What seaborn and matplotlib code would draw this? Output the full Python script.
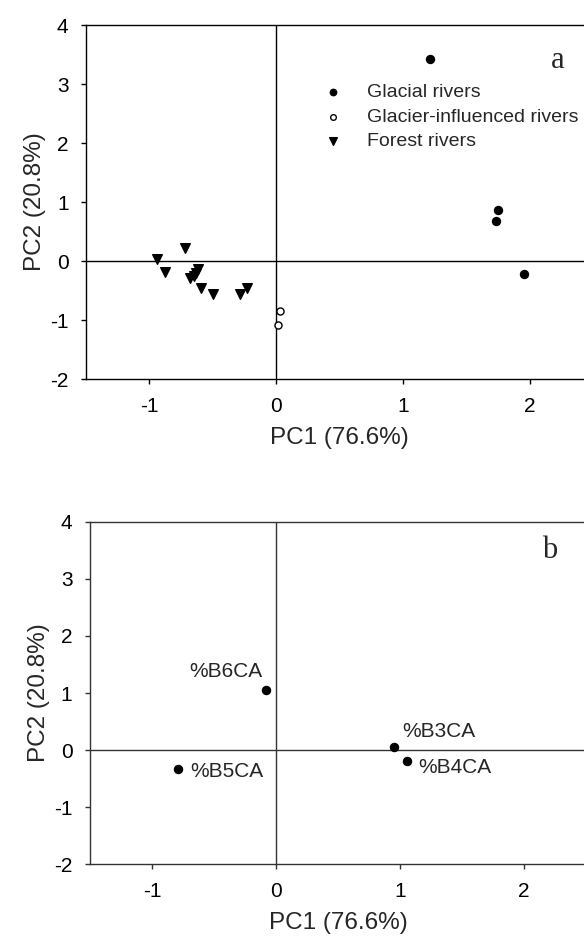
import pandas as pd
import matplotlib
matplotlib.use('Agg')
import matplotlib.pyplot as plt
import seaborn as sns

# --- panel a: PCA scores of the river sites ---
glacial_pc1 = [1.21, 1.75, 1.73, 1.955]
glacial_pc2 = [3.42, 0.86, 0.68, -0.225]
influenced_pc1 = [0.03, 0.013]
influenced_pc2 = [-0.85, -1.08]
forest_pc1 = [-0.94, -0.88, -0.717, -0.68, -0.65, -0.63, -0.62, -0.59, -0.50, -0.29, -0.23]
forest_pc2 = [0.03, -0.19, 0.215, -0.29, -0.25, -0.20, -0.14, -0.45, -0.56, -0.56, -0.45]
groups = ['Glacial rivers', 'Glacier-influenced rivers', 'Forest rivers']

# --- panel b: loadings of the variables ---
var_names = ['%B3CA', '%B4CA', '%B5CA', '%B6CA']
var_pc1 = [0.954, 1.056, -0.79, -0.08]
var_pc2 = [0.06, -0.19, -0.33, 1.05]

x_ticks = [-1, 0, 1, 2]
y_ticks = [-2, -1, 0, 1, 2, 3, 4]

scores = pd.DataFrame({
    'PC1': glacial_pc1 + influenced_pc1 + forest_pc1,
    'PC2': glacial_pc2 + influenced_pc2 + forest_pc2,
    'group': [groups[0]] * len(glacial_pc1) + [groups[1]] * len(influenced_pc1)
             + [groups[2]] * len(forest_pc1),
})
loadings = pd.DataFrame({'PC1': var_pc1, 'PC2': var_pc2, 'name': var_names})

# marker style per group: (marker, face colour, size)
group_style = {
    'Glacial rivers': ('o', 'black', 33),
    'Glacier-influenced rivers': ('o', 'white', 26),
    'Forest rivers': ('v', 'black', 48),
}
# label offsets (points) and alignment for panel b
label_pos = {
    '%B3CA': (6, 11, 'left'),
    '%B4CA': (8.5, -4.5, 'left'),
    '%B5CA': (8.5, -1.5, 'left'),
    '%B6CA': (-3, 13.5, 'right'),
}

sns.set_style('ticks')
plt.rcParams['font.family'] = ['Liberation Sans', 'DejaVu Sans']
plt.rcParams['axes.unicode_minus'] = False

fig = plt.figure(figsize=(5.84, 9.44), dpi=100)
ax_a = fig.add_axes([0.1473, 0.5985, 0.869, 0.375])
ax_b = fig.add_axes([0.1541, 0.0844, 0.8493, 0.3629])


def setup_axes(ax, spine_col):
    ax.axhline(0, color=spine_col, lw=1.0, zorder=1)
    ax.axvline(0, color=spine_col, lw=1.0, zorder=1)
    ax.set_xlim(-1.5, 2.5)
    ax.set_ylim(-2, 4)
    ax.set_xticks(x_ticks)
    ax.set_yticks(y_ticks)
    for s in ax.spines.values():
        s.set_visible(True)
        s.set_color(spine_col)
        s.set_linewidth(1.0)
    ax.tick_params(direction='out', length=3.6, width=1.0, colors=spine_col,
                   labelcolor='black', labelsize=15, pad=9)
    ax.grid(False)


# panel a
setup_axes(ax_a, 'black')
for g in groups:
    m, fc, sz = group_style[g]
    sub = scores[scores['group'] == g]
    sns.scatterplot(data=sub, x='PC1', y='PC2', marker=m, color=fc, s=sz,
                    edgecolor='black', linewidth=1.0, label=g, ax=ax_a, zorder=3)
ax_a.set_xlabel('PC1 (76.6%)', fontsize=17.5, labelpad=8)
ax_a.set_ylabel('PC2 (20.8%)', fontsize=17.5, labelpad=3)
ax_a.legend(loc='upper left', bbox_to_anchor=(0.4676, 0.835), frameon=False,
            borderpad=0, borderaxespad=0, handlelength=1.0, handletextpad=1.25,
            labelspacing=0.36, fontsize=14, markerscale=0.8)
ax_a.text(0.930, 0.901, 'a', transform=ax_a.transAxes, ha='center', va='center',
          fontsize=22, family=['Liberation Serif', 'DejaVu Serif'])

# panel b
setup_axes(ax_b, '#333333')
sns.scatterplot(data=loadings, x='PC1', y='PC2', marker='o', color='black', s=36,
                edgecolor='black', linewidth=0.8, ax=ax_b, zorder=3, legend=False)
ax_b.set_xlabel('PC1 (76.6%)', fontsize=17.5, labelpad=8)
ax_b.set_ylabel('PC2 (20.8%)', fontsize=17.5, labelpad=3)
for _, row in loadings.iterrows():
    dx, dy, ha = label_pos[row['name']]
    ax_b.annotate(row['name'], (row['PC1'], row['PC2']), xytext=(dx, dy),
                  textcoords='offset points', ha=ha, va='center', fontsize=15)
ax_b.text(0.927, 0.917, 'b', transform=ax_b.transAxes, ha='center', va='center',
          fontsize=22, family=['Liberation Serif', 'DejaVu Serif'])

fig.savefig('out.png', dpi=100)
